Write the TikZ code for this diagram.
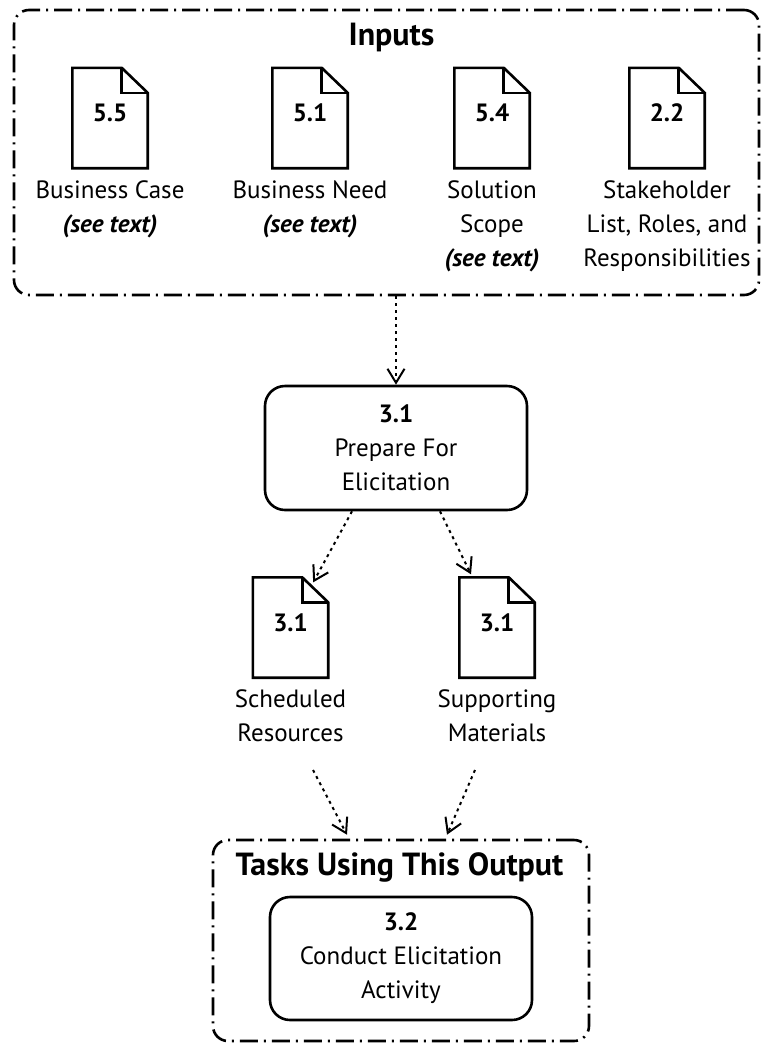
\documentclass[tikz,border=0pt]{standalone}
\usepackage{fontspec}
\setmainfont{PT Sans}
\usetikzlibrary{arrows.meta,positioning}

\begin{document}
\begin{tikzpicture}[x=1pt, y=-1pt,
        every node/.style={font=\fontsize{25}{34}\selectfont},
        titletext/.style={anchor=base, font=\fontsize{32}{36}\selectfont\bfseries},
        groupbox/.style={draw, line width=2.6pt, rounded corners=15pt, dash pattern=on 18pt off 6pt on 2pt off 6pt, inner sep=0pt},
        taskbox/.style={draw, line width=2.6pt, rounded corners=20pt, minimum width=262pt, minimum height=124pt, align=center},
        docbox/.style={minimum width=75pt, minimum height=100pt, inner sep=0pt},
        docline/.style={line width=2.6pt, line join=miter},
        doclabel/.style={align=center, inner sep=0pt, below=12pt of #1},
        flow/.style={line width=2pt, dash pattern=on 3pt off 4pt, -{Straight Barb[length=14pt, width=17pt, line width=2pt]}}]
        \useasboundingbox (0,0) rectangle (761,1045);

        % inputs group
        \node[groupbox, minimum width=745pt, minimum height=285pt] (inputs) at (386.5,152.5) {};
        \node[titletext] (inputtitle) at (391.5,45) {Inputs};

        \foreach \n/\x/\num in {case/110/5.5, need/310/5.1, scope/492/5.4, stake/667/2.2} {
            \node[docbox] (doc\n) at (\x,118) {};
            \draw[docline] (doc\n.south west) -- (doc\n.north west) -- ([xshift=-26pt]doc\n.north east)
                -- ([yshift=-25pt]doc\n.north east) -- (doc\n.south east) -- cycle;
            \draw[docline] ([xshift=-26pt]doc\n.north east) |- ([yshift=-25pt]doc\n.north east);
            \node (num\n) at ([yshift=5pt]doc\n.center) {\textbf{\num}};
        }

        \node[doclabel=doccase] (labcase) {Business Case\\\textbf{\textit{(see text)}}};
        \node[doclabel=docneed] (labneed) {Business Need\\\textbf{\textit{(see text)}}};
        \node[doclabel=docscope] (labscope) {Solution\\Scope\\\textbf{\textit{(see text)}}};
        \node[doclabel=docstake] (labstake) {Stakeholder\\List, Roles, and\\Responsibilities};

        % task
        \node[taskbox] (prep) at (396,448) {\textbf{3.1}\\Prepare For\\Elicitation};
        \draw[flow] (inputs.south -| prep.north) -- (prep.north);

        % outputs
        \foreach \n/\x in {sched/290.5, supp/497} {
            \node[docbox] (doc\n) at (\x,627.5) {};
            \draw[docline] (doc\n.south west) -- (doc\n.north west) -- ([xshift=-26pt]doc\n.north east)
                -- ([yshift=-25pt]doc\n.north east) -- (doc\n.south east) -- cycle;
            \draw[docline] ([xshift=-26pt]doc\n.north east) |- ([yshift=-25pt]doc\n.north east);
            \node (num\n) at ([yshift=5pt]doc\n.center) {\textbf{3.1}};
        }
        \node[doclabel=docsched] (labsched) {Scheduled\\Resources};
        \node[doclabel=docsupp] (labsupp) {Supporting\\Materials};

        \draw[flow] ([xshift=-44pt]prep.south) -- ([xshift=-15pt,yshift=-5pt]docsched.north east);
        \draw[flow] ([xshift=44pt]prep.south) -- ([xshift=-26pt,yshift=3pt]docsupp.north);

        % tasks using this output
        \node[groupbox, minimum width=376pt, minimum height=201pt] (tasks) at (401,940.5) {};
        \node[titletext] (tasktitle) at (399.5,875) {Tasks Using This Output};
        \node[taskbox, minimum height=123pt] (conduct) at (401,958.5) {\textbf{3.2}\\Conduct Elicitation\\Activity};

        \coordinate (fromsched) at (313,770);
        \coordinate (fromsupp) at (475,770);
        \draw[flow] (fromsched) -- ([xshift=-54pt,yshift=4pt]tasks.north);
        \draw[flow] (fromsupp) -- ([xshift=46pt,yshift=4pt]tasks.north);
    \end{tikzpicture}
\end{document}
